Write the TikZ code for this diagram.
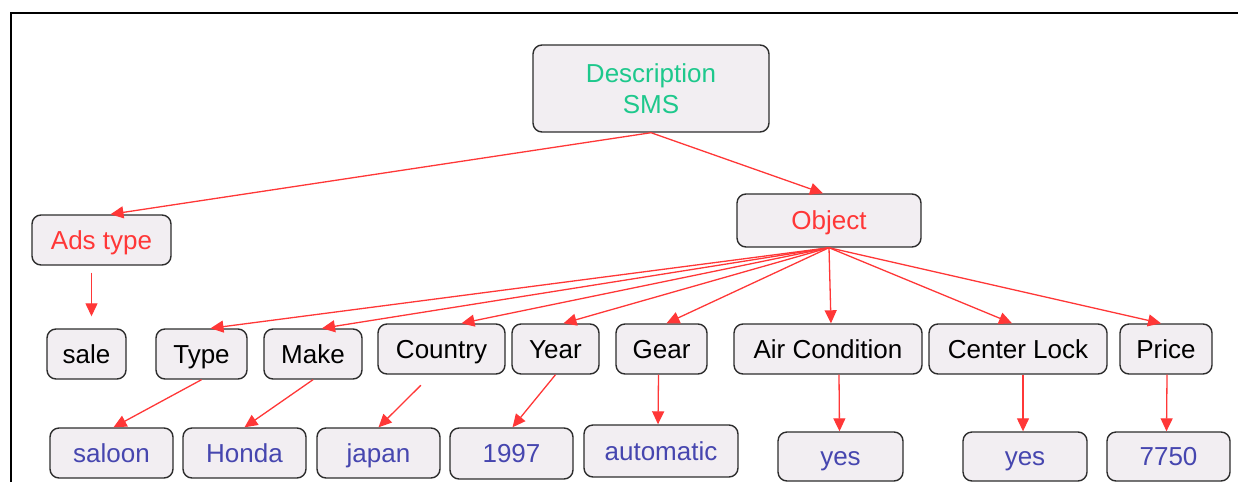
\documentclass[tikz,border=0pt]{standalone}
\usepackage{fontspec}
\setmainfont{Liberation Sans}
\usetikzlibrary{arrows.meta}
\definecolor{boxfill}{RGB}{242,238,242}
\definecolor{boxline}{RGB}{45,45,45}
\definecolor{arred}{RGB}{255,55,55}
\definecolor{txtgreen}{RGB}{30,200,140}
\definecolor{txtblue}{RGB}{70,70,175}
\tikzset{
  box/.style={draw=boxline, fill=boxfill, line width=1.4pt, rounded corners=9pt, inner sep=0pt,
    font=\fontsize{26}{31}\selectfont, align=center},
  onel/.style={text height=18.6pt, text depth=0pt},
  arr/.style={draw=arred, line width=1.3pt, -{Triangle[length=13pt,width=12pt]}},
}
\newcommand{\bx}[8][onel]{% options, name, x1, y1, x2, y2, color, text
  \node[box, #1, text=#7, minimum width={#5-#3}, minimum height={#6-#4}] (#2) at ({(#3+#5)/2},{(#4+#6)/2}) {#8};}
\begin{document}
\begin{tikzpicture}[x=1pt,y=-1pt]
\useasboundingbox (0,0) rectangle (1238,482);
\draw[line width=2pt] (11,482) -- (11,13) -- (1238,13);
% top
\bx[]{desc}{533}{45}{769}{132}{txtgreen}{Description\\SMS}
\bx{obj}{737}{194}{921}{247}{arred}{Object}
\bx{ads}{32}{215}{171}{265}{arred}{Ads type}
% middle row
\bx{sale}{47}{329}{126}{379}{black}{sale}
\bx{type}{156}{329}{247}{379}{black}{Type}
\bx{make}{264}{329}{362}{379}{black}{Make}
\bx{country}{378}{324}{505}{374}{black}{Country}
\bx{year}{512}{324}{599}{374}{black}{Year}
\bx{gear}{616}{324}{707}{374}{black}{Gear}
\bx{ac}{734}{324}{922}{374}{black}{Air Condition}
\bx{cl}{929}{324}{1107}{374}{black}{Center Lock}
\bx{price}{1120}{324}{1212}{374}{black}{Price}
% bottom row
\bx{saloon}{50}{428}{173}{478}{txtblue}{saloon}
\bx{honda}{183}{428}{306}{478}{txtblue}{Honda}
\bx{japan}{317}{428}{440}{478}{txtblue}{japan}
\bx{y1997}{450}{428}{573}{479}{txtblue}{1997}
\bx{auto}{584}{425}{738}{477}{txtblue}{automatic}
\bx{yesac}{778}{432}{903}{481}{txtblue}{yes}
\bx{yescl}{963}{432}{1087}{481}{txtblue}{yes}
\bx{p7750}{1107}{432}{1230}{481}{txtblue}{7750}
% connectors
\draw[arr] (desc.south) -- ([xshift=9pt]ads.north);
\draw[arr] (desc.south) -- ([xshift=-6pt]obj.north);
\draw[arr, shorten <=7pt, shorten >=12pt] ([xshift=-10pt]ads.south) -- ([xshift=5pt]sale.north);
\draw[arr] (obj.south) -- ([xshift=9pt]type.north);
\draw[arr] (obj.south) -- ([xshift=9pt]make.north);
\draw[arr] (obj.south) -- ([xshift=20pt]country.north);
\draw[arr] (obj.south) -- ([xshift=8pt]year.north);
\draw[arr] (obj.south) -- ([xshift=5pt]gear.north);
\draw[arr] (obj.south) -- ([xshift=3pt]ac.north);
\draw[arr] (obj.south) -- ([xshift=-6pt]cl.north);
\draw[arr] (obj.south) -- ([xshift=-5pt]price.north);
\draw[arr] (type.south) -- ([xshift=2pt]saloon.north);
\draw[arr] (make.south) -- (honda.north);
\draw[arr, shorten <=15pt] ([xshift=-10pt]country.south) -- (japan.north);
\draw[arr] (year.south) -- ([xshift=1pt]y1997.north);
\draw[arr] ([xshift=-3pt]gear.south) -- ([xshift=-3pt]auto.north);
\draw[arr] ([xshift=11pt]ac.south) -- ([xshift=-1pt]yesac.north);
\draw[arr] ([xshift=5pt]cl.south) -- ([xshift=-2pt]yescl.north);
\draw[arr] ([xshift=1pt]price.south) -- ([xshift=-2pt]p7750.north);
\end{tikzpicture}
\end{document}
